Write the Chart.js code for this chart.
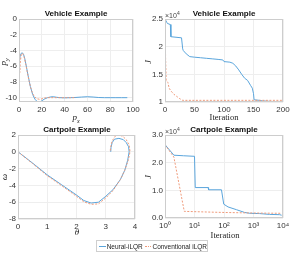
<!DOCTYPE html>
<html>
<head>
<meta charset="utf-8">
<script src="https://cdn.jsdelivr.net/npm/chart.js@4"></script>
<style>
  body { margin: 0; background: #fff; }
  #wrap { position: relative; width: 305px; height: 253px; overflow: hidden; }
  canvas { position: absolute; }
  .lbl { position: absolute; transform: translate(-50%, -50%); white-space: nowrap; color: #222; }
  .ttl { font: bold 8px "Liberation Sans", Arial, sans-serif; color: #111; }
  .math { font: italic 9px "Liberation Serif", "DejaVu Serif", serif; }
  .txt { font: 8.5px "Liberation Serif", "DejaVu Serif", serif; }
  .rot { transform: translate(-50%, -50%) rotate(-90deg); }
  .exp { position: absolute; font: 7px "Liberation Sans", Arial, sans-serif; color: #444; white-space: nowrap; }
  #legend { position: absolute; left: 96px; top: 240px; width: 112px; height: 12px; border: 1px solid #cfcfcf;
    box-sizing: border-box; font: 6.5px "Liberation Sans", Arial, sans-serif; color: #222; white-space: nowrap;
    display: flex; align-items: center; padding-left: 2px; }
  #legend .ln { display: inline-block; width: 8px; height: 0; margin-right: 1px; }
</style>
</head>
<body>
<div id="wrap">
  <canvas id="c1" width="150" height="125" style="left:0;top:0"></canvas>
  <canvas id="c2" width="155" height="125" style="left:150px;top:0"></canvas>
  <canvas id="c3" width="150" height="115" style="left:0;top:120px"></canvas>
  <canvas id="c4" width="155" height="115" style="left:150px;top:120px"></canvas>

  <div class="lbl ttl" style="left:76px;top:13px">Vehicle Example</div>
  <div class="lbl ttl" style="left:224px;top:13px">Vehicle Example</div>
  <div class="lbl ttl" style="left:77px;top:129px">Cartpole Example</div>
  <div class="lbl ttl" style="left:224px;top:129px">Cartpole Example</div>

  <div class="lbl math rot" style="left:4px;top:62px">p<sub style="font-size:6px">y</sub></div>
  <div class="lbl math" style="left:76px;top:118px">p<sub style="font-size:6px">x</sub></div>
  <div class="lbl math rot" style="left:148px;top:62px">J</div>
  <div class="lbl txt" style="left:224px;top:117px">Iteration</div>
  <div class="lbl math rot" style="left:4px;top:177px">ω</div>
  <div class="lbl math" style="left:77px;top:232px">θ</div>
  <div class="lbl math rot" style="left:148px;top:177px">J</div>
  <div class="lbl txt" style="left:225px;top:235px">Iteration</div>

  <div class="exp" style="left:165px;top:10px">×10<sup style="font-size:5px">4</sup></div>
  <div class="exp" style="left:165px;top:126px">×10<sup style="font-size:5px">4</sup></div>

  <div id="legend">
    <span class="ln" style="border-top:1px solid #5aa5dc"></span>Neural-iLQR<span class="ln" style="border-top:1px dotted #ef9a7a;margin-left:2px"></span>Conventional iLQR
  </div>
</div>

<script>
// Vehicle example: trajectory (p_x, p_y)
const vehNeuralPx = [0, 0.5, 1, 2, 3, 4, 5, 6, 8, 10, 12, 14, 16, 18, 20, 22, 25, 28, 30, 33, 36, 40, 45, 50, 55, 60, 65, 70, 75, 80, 85, 90, 95];
const vehNeuralPy = [-6.3, -5.2, -4.7, -4.35, -4.3, -4.5, -5.0, -5.7, -7.2, -8.6, -9.6, -10.2, -10.5, -10.55, -10.4, -10.2, -10.0, -9.9, -9.88, -9.95, -10.0, -10.02, -10.0, -9.97, -9.92, -9.88, -9.92, -9.98, -10.0, -10.0, -10.0, -10.0, -10.0];
const vehConvPx = [0.3, 0.4, 0.5, 0.7, 1, 2, 3, 4, 5, 6, 8, 10, 12, 14, 16, 18, 20, 22, 25, 30, 40, 50];
const vehConvPy = [0, -3, -6, -6.8, -5.6, -4.5, -4.35, -4.6, -5.1, -5.8, -7.3, -8.6, -9.5, -9.95, -10.15, -10.2, -10.15, -10.05, -10.0, -10.0, -10.0, -10.0];

// Vehicle example: cost J per iteration
const vehNeuralIter = [0, 3, 4, 9, 10, 28, 30, 31, 36, 42, 50, 60, 70, 80, 90, 98, 100, 110, 115, 120, 125, 130, 135, 140, 145, 148, 150, 151, 160, 165, 180, 200];
const vehNeuralJ = [25000, 24400, 24200, 24000, 21800, 21600, 19600, 19300, 18700, 18200, 18100, 18000, 17900, 17800, 17700, 17600, 17300, 17200, 17000, 16500, 15800, 15000, 14300, 13900, 13000, 12500, 11500, 10400, 10300, 10200, 10100, 10000];
const vehConvIter = [0, 1, 2, 3, 5, 7, 10, 15, 20, 25, 30, 50, 100, 150, 200];
const vehConvJ = [25000, 18000, 14000, 13800, 13500, 12500, 12000, 11400, 11000, 10600, 10300, 10300, 10300, 10300, 10300];

// Cartpole example: phase portrait (theta, omega)
const cartNeuralTheta = [0, 0.5, 1, 1.5, 2, 2.25, 2.5, 2.75, 3, 3.25, 3.5, 3.65, 3.75, 3.8, 3.78, 3.7, 3.6, 3.45, 3.3, 3.22, 3.18, 3.17];
const cartNeuralOmega = [0, -1.35, -2.75, -3.95, -5.15, -5.8, -6.1, -6.0, -5.3, -4.5, -3.3, -2.2, -1.0, 0, 0.6, 1.1, 1.45, 1.6, 1.5, 1.1, 0.5, 0];
const cartConvTheta = [0, 0.5, 1, 1.5, 2, 2.25, 2.5, 2.75, 3, 3.25, 3.5, 3.65, 3.77, 3.83, 3.8, 3.7, 3.58, 3.45, 3.32, 3.22, 3.17, 3.15];
const cartConvOmega = [0, -1.4, -2.85, -4.05, -5.3, -5.95, -6.25, -6.2, -5.5, -4.6, -3.3, -2.2, -1.0, 0, 0.8, 1.45, 1.85, 2.0, 1.85, 1.3, 0.6, 0];

// Cartpole example: cost J per iteration (log iterations)
const cartNeuralIter = [1, 2, 4.2, 10, 10.6, 29, 30, 82, 98, 137, 265, 500, 750, 1600, 3500, 7700, 9000];
const cartNeuralJ = [26500, 22700, 22500, 22300, 11000, 11000, 10200, 10200, 5000, 4000, 3000, 2000, 1700, 1600, 1300, 1200, 1000];
const cartConvIter = [1, 2, 4.5, 20, 100, 1000, 9000];
const cartConvJ = [26500, 22000, 2400, 2200, 2000, 1800, 1700];

// tick values and labels
const pyTicks = [0, -2, -4, -6, -8, -10];
const pxTicks = [0, 20, 40, 60, 80, 100];
const vehJTicks = [10000, 15000, 20000, 25000];
const vehJLabels = ['1', '1.5', '2', '2.5'];
const vehIterTicks = [0, 50, 100, 150, 200];
const omegaTicks = [-8, -6, -4, -2, 0, 2];
const thetaTicks = [0, 1, 2, 3, 4];
const cartJTicks = [0, 10000, 20000, 30000];
const cartJLabels = ['0.0', '1.0', '2.0', '3.0'];
const cartIterTicks = [1, 10, 100, 1000, 10000];
const cartIterLabels = ['10⁰', '10¹', '10²', '10³', '10⁴'];

const blue = '#5aa5dc';
const orange = '#ef9a7a';
const tickFont = { family: '"Liberation Sans", Arial, sans-serif', size: 8 };

function pts(xs, ys) {
  return xs.map((x, i) => ({ x: x, y: ys[i] }));
}

// draws the full box around the plot area
const boxPlugin = {
  id: 'box',
  afterDraw(chart) {
    const a = chart.chartArea;
    const ctx = chart.ctx;
    ctx.save();
    ctx.strokeStyle = '#cdcdcd';
    ctx.lineWidth = 1;
    ctx.strokeRect(a.left + 0.5, a.top + 0.5, a.right - a.left - 1, a.bottom - a.top - 1);
    ctx.restore();
  }
};

function axis(cfg) {
  return {
    type: cfg.type || 'linear',
    min: cfg.min,
    max: cfg.max,
    afterFit: cfg.fit,
    afterBuildTicks: (scale) => { scale.ticks = cfg.ticks.map(v => ({ value: v })); },
    grid: { color: '#eeeeee', drawTicks: false },
    border: { display: false },
    ticks: {
      font: tickFont,
      color: '#333',
      padding: cfg.pad,
      maxRotation: 0,
      autoSkip: false,
      callback: (v) => {
        const i = cfg.ticks.indexOf(v);
        if (cfg.labels && i >= 0) return cfg.labels[i];
        return String(v);
      }
    }
  };
}

function makeChart(id, area, neural, conv, xAx, yAx) {
  const canvas = document.getElementById(id);
  const W = canvas.width;
  const H = canvas.height;
  xAx.fit = (s) => { s.height = H - area.bottom; };
  yAx.fit = (s) => { s.width = area.left; };
  xAx.pad = 3;
  yAx.pad = 2;
  return new Chart(canvas.getContext('2d'), {
    type: 'line',
    data: {
      datasets: [
        { label: 'Conventional iLQR', data: conv, borderColor: orange, borderWidth: 1, borderDash: [2, 1.5] },
        { label: 'Neural-iLQR', data: neural, borderColor: blue, borderWidth: 1 }
      ]
    },
    options: {
      responsive: false,
      animation: false,
      events: [],
      elements: { point: { radius: 0 }, line: { tension: 0 } },
      layout: { padding: { left: 0, top: area.top, right: W - area.right, bottom: 0 } },
      plugins: { legend: { display: false }, tooltip: { enabled: false } },
      scales: { x: axis(xAx), y: axis(yAx) }
    },
    plugins: [boxPlugin]
  });
}

makeChart('c1', { left: 19, top: 19, right: 133, bottom: 102 },
  pts(vehNeuralPx, vehNeuralPy), pts(vehConvPx, vehConvPy),
  { min: 0, max: 100, ticks: pxTicks },
  { min: -10.55, max: 0, ticks: pyTicks });

makeChart('c2', { left: 15, top: 19, right: 133, bottom: 102 },
  pts(vehNeuralIter, vehNeuralJ), pts(vehConvIter, vehConvJ),
  { min: 0, max: 200, ticks: vehIterTicks },
  { min: 10000, max: 25000, ticks: vehJTicks, labels: vehJLabels });

makeChart('c3', { left: 18, top: 15, right: 135, bottom: 99 },
  pts(cartNeuralTheta, cartNeuralOmega), pts(cartConvTheta, cartConvOmega),
  { min: 0, max: 4, ticks: thetaTicks },
  { min: -8, max: 2, ticks: omegaTicks });

makeChart('c4', { left: 15, top: 15, right: 133, bottom: 98 },
  pts(cartNeuralIter, cartNeuralJ), pts(cartConvIter, cartConvJ),
  { type: 'logarithmic', min: 1, max: 10000, ticks: cartIterTicks, labels: cartIterLabels },
  { min: 0, max: 30000, ticks: cartJTicks, labels: cartJLabels });
</script>
</body>
</html>
